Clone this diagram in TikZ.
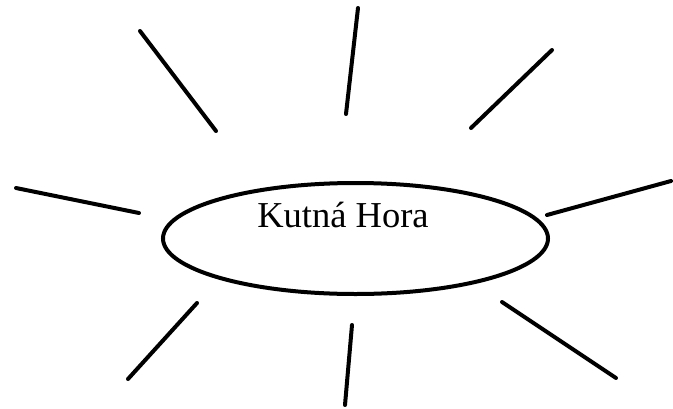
\documentclass[tikz,border=0pt]{standalone}
\usepackage{fontspec}
\setmainfont{Liberation Serif}
\usetikzlibrary{shapes.geometric}
\begin{document}
\begin{tikzpicture}[x=1pt,y=-1pt,
  ray/.style={line width=4pt,line cap=round},
  hub/.style={ellipse,draw,line width=4pt,minimum width=385pt,minimum height=111pt,inner sep=0pt},
  lbl/.style={font=\fontsize{36.5}{42}\selectfont,anchor=base,inner sep=0pt}]
\useasboundingbox (0,0) rectangle (673,408);
\node[hub] (e) at (355.5,238.5) {};
\node[lbl] (t) at (343,227) {Kutná Hora};
\coordinate (a1) at (140,31);  \coordinate (a2) at (216,131);
\coordinate (b1) at (358,8);   \coordinate (b2) at (346,114);
\coordinate (c1) at (552,50);  \coordinate (c2) at (471,128);
\coordinate (d1) at (16,188);  \coordinate (d2) at (139,213);
\coordinate (f1) at (547,215); \coordinate (f2) at (671,181);
\coordinate (g1) at (197,303); \coordinate (g2) at (128,379);
\coordinate (h1) at (352,325); \coordinate (h2) at (345,405);
\coordinate (i1) at (502,302); \coordinate (i2) at (616,378);
\foreach \p in {a,b,c,d,f,g,h,i} \draw[ray] (\p1) -- (\p2);
\end{tikzpicture}
\end{document}
